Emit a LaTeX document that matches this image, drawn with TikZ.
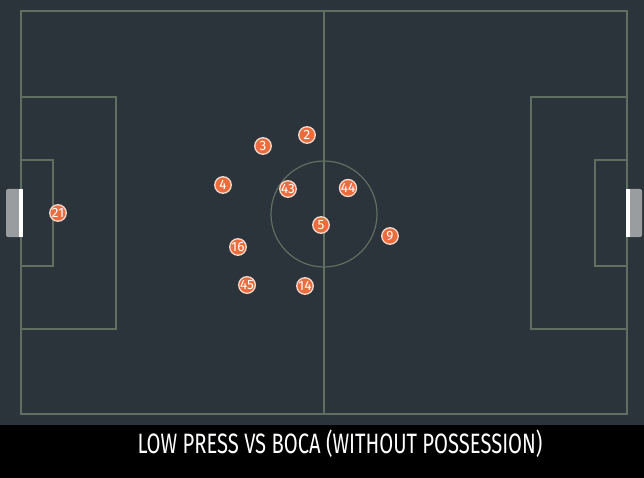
\documentclass[tikz,border=0pt]{standalone}
\usepackage{fontspec}
\setmainfont{Fira Sans}
\usepackage{graphicx}
\definecolor{pitch}{HTML}{2B333B}
\definecolor{pline}{HTML}{5F6F62}
\definecolor{player}{HTML}{EC6C3C}
\definecolor{pborder}{HTML}{F4D8CC}
\definecolor{goalgray}{HTML}{9A9DA0}
\tikzset{
  pl/.style={circle, fill=player, draw=pborder, line width=1.3pt, minimum size=16.5pt, inner sep=0pt, text=white, font=\fontsize{13.5}{13.5}\selectfont},
  pmark/.style={draw=pline, line width=1.2pt}
}
\begin{document}
\begin{tikzpicture}[x=1pt,y=-1pt]
\useasboundingbox (0,0) rectangle (644,478);
\fill[pitch] (0,0) rectangle (644,425);
\fill[black] (0,425) rectangle (644,478);
% pitch markings
\draw[pmark] (21,11) rectangle (627,414);
\draw[pmark] (324,11) -- (324,414);
\draw[pmark] (324,214) circle[radius=53];
\draw[pmark] (21,97) rectangle (116,329);
\draw[pmark] (21,160) rectangle (53,266);
\draw[pmark] (627,97) rectangle (531,329);
\draw[pmark] (627,160) rectangle (595,266);
% goals
\fill[goalgray, rounded corners=2pt] (6,189) rectangle (22,237);
\fill[white] (19,189) rectangle (22.5,237);
\fill[goalgray, rounded corners=2pt] (626,189) rectangle (642,237);
\fill[white] (626,189) rectangle (629.5,237);
% players
\node[pl] (p2) at (307,135) {2};
\node[pl] (p3) at (263,146) {3};
\node[pl] (p4) at (223,185) {4};
\node[pl] (p43) at (288,189) {43};
\node[pl] (p44) at (348,188) {44};
\node[pl] (p5) at (321,225) {5};
\node[pl] (p9) at (390,236) {9};
\node[pl] (p16) at (238,247) {16};
\node[pl] (p45) at (247,285) {45};
\node[pl] (p14) at (305,286) {14};
\node[pl] (p21) at (58,213) {21};
% title
\node[text=white, inner sep=0pt] (title) at (340,444) {\resizebox{405pt}{\height}{\fontsize{28}{28}\selectfont LOW PRESS VS BOCA (WITHOUT POSSESSION)}};
\end{tikzpicture}
\end{document}
